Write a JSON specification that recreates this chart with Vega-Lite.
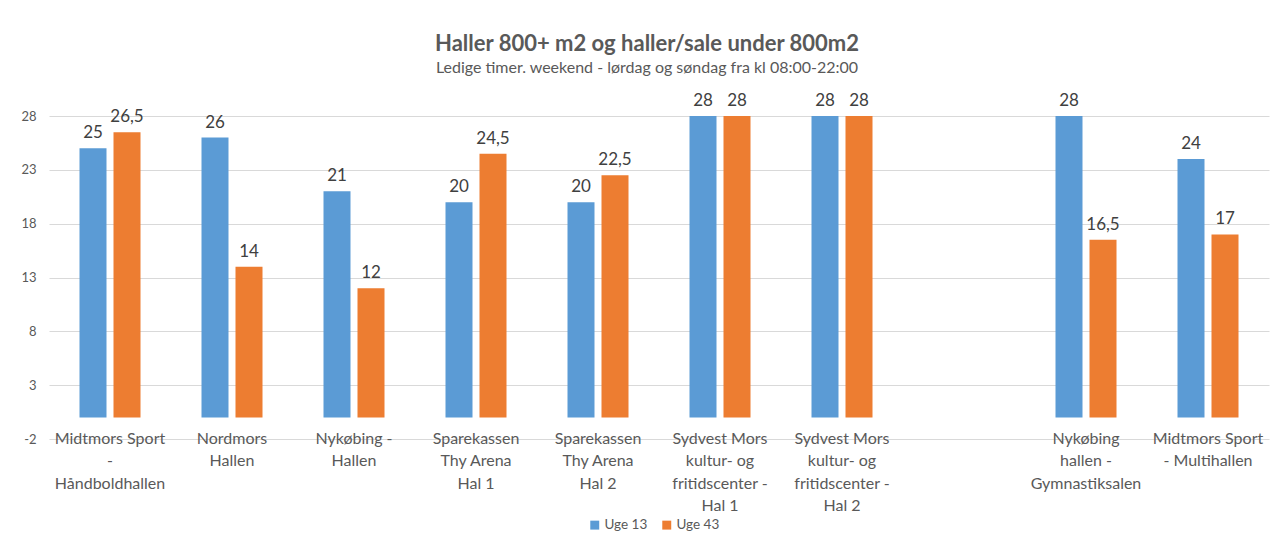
{
  "$schema": "https://vega.github.io/schema/vega-lite/v6.json",
  "width": 1220,
  "height": 323,
  "autosize": "none",
  "padding": {"left": 49, "top": 116, "right": 5, "bottom": 99},
  "background": "white",
  "config": {
    "font": "Lato",
    "view": {"stroke": null},
    "locale": {"number": {"decimal": ",", "thousands": ".", "grouping": [3], "currency": ["", " kr"], "minus": "-"}}
  },
  "title": {
    "text": "Haller 800+ m2 og haller/sale under 800m2",
    "subtitle": "Ledige timer. weekend  - lørdag og søndag fra kl 08:00-22:00",
    "anchor": "middle",
    "dx": -12,
    "fontSize": 22,
    "fontWeight": "bold",
    "color": "#595959",
    "subtitleFontSize": 16,
    "subtitleColor": "#595959",
    "subtitlePadding": 4,
    "offset": 15
  },
  "data": {
    "values": [
      {"hall": "Midtmors Sport|-|Håndboldhallen", "serie": "Uge 13", "timer": 25},
      {"hall": "Midtmors Sport|-|Håndboldhallen", "serie": "Uge 43", "timer": 26.5},
      {"hall": "Nordmors|Hallen", "serie": "Uge 13", "timer": 26},
      {"hall": "Nordmors|Hallen", "serie": "Uge 43", "timer": 14},
      {"hall": "Nykøbing -|Hallen", "serie": "Uge 13", "timer": 21},
      {"hall": "Nykøbing -|Hallen", "serie": "Uge 43", "timer": 12},
      {"hall": "Sparekassen|Thy Arena|Hal 1", "serie": "Uge 13", "timer": 20},
      {"hall": "Sparekassen|Thy Arena|Hal 1", "serie": "Uge 43", "timer": 24.5},
      {"hall": "Sparekassen|Thy Arena|Hal 2", "serie": "Uge 13", "timer": 20},
      {"hall": "Sparekassen|Thy Arena|Hal 2", "serie": "Uge 43", "timer": 22.5},
      {"hall": "Sydvest Mors|kultur- og|fritidscenter -|Hal 1", "serie": "Uge 13", "timer": 28},
      {"hall": "Sydvest Mors|kultur- og|fritidscenter -|Hal 1", "serie": "Uge 43", "timer": 28},
      {"hall": "Sydvest Mors|kultur- og|fritidscenter -|Hal 2", "serie": "Uge 13", "timer": 28},
      {"hall": "Sydvest Mors|kultur- og|fritidscenter -|Hal 2", "serie": "Uge 43", "timer": 28},
      {"hall": "Nykøbing|hallen -|Gymnastiksalen", "serie": "Uge 13", "timer": 28},
      {"hall": "Nykøbing|hallen -|Gymnastiksalen", "serie": "Uge 43", "timer": 16.5},
      {"hall": "Midtmors Sport|- Multihallen", "serie": "Uge 13", "timer": 24},
      {"hall": "Midtmors Sport|- Multihallen", "serie": "Uge 43", "timer": 17}
    ]
  },
  "encoding": {
    "x": {
      "field": "hall",
      "type": "nominal",
      "title": null,
      "scale": {
        "domain": [
          "Midtmors Sport|-|Håndboldhallen",
          "Nordmors|Hallen",
          "Nykøbing -|Hallen",
          "Sparekassen|Thy Arena|Hal 1",
          "Sparekassen|Thy Arena|Hal 2",
          "Sydvest Mors|kultur- og|fritidscenter -|Hal 1",
          "Sydvest Mors|kultur- og|fritidscenter -|Hal 2",
          " ",
          "Nykøbing|hallen -|Gymnastiksalen",
          "Midtmors Sport|- Multihallen"
        ],
        "paddingInner": 0.5,
        "paddingOuter": 0.25
      },
      "axis": {
        "labelAngle": 0,
        "labelExpr": "split(datum.label, '|')",
        "labelFontSize": 16,
        "labelColor": "#595959",
        "labelLineHeight": 22.5,
        "labelBaseline": "top",
        "labelPadding": -9,
        "labelOverlap": false,
        "labelLimit": 0,
        "domain": false,
        "ticks": false
      }
    },
    "xOffset": {"field": "serie", "type": "nominal", "scale": {"paddingInner": 0.206}},
    "color": {
      "field": "serie",
      "type": "nominal",
      "scale": {"domain": ["Uge 13", "Uge 43"], "range": ["#5B9BD5", "#ED7D31"]},
      "legend": {
        "title": null,
        "orient": "none",
        "legendX": 539,
        "legendY": 402,
        "direction": "horizontal",
        "symbolType": "square",
        "symbolSize": 80,
        "symbolStrokeWidth": 0,
        "labelFontSize": 13.5,
        "labelColor": "#595959",
        "columnPadding": 12,
        "labelOffset": 3
      }
    }
  },
  "layer": [
    {
      "mark": {"type": "bar"},
      "encoding": {
        "y": {
          "field": "timer",
          "type": "quantitative",
          "title": null,
          "scale": {"domain": [-2, 28], "nice": false, "zero": false},
          "axis": {
            "values": [-2, 3, 8, 13, 18, 23, 28],
            "format": "d",
            "labelFontSize": 13,
            "labelColor": "#595959",
            "labelPadding": 13,
            "domain": false,
            "ticks": false,
            "gridColor": "#d9d9d9"
          }
        },
        "y2": {"datum": 0}
      }
    },
    {
      "mark": {"type": "text", "baseline": "bottom", "dy": -6, "fontSize": 17, "color": "#404040"},
      "encoding": {
        "y": {"field": "timer", "type": "quantitative"},
        "text": {"field": "timer", "type": "quantitative", "format": ".1~f"},
        "color": {"value": "#404040"}
      }
    },
    {
      "mark": {"type": "rule", "color": "#bfbfbf", "strokeWidth": 1},
      "encoding": {"y": {"datum": 0}, "color": {"value": "#bfbfbf"}, "xOffset": null}
    }
  ]
}
